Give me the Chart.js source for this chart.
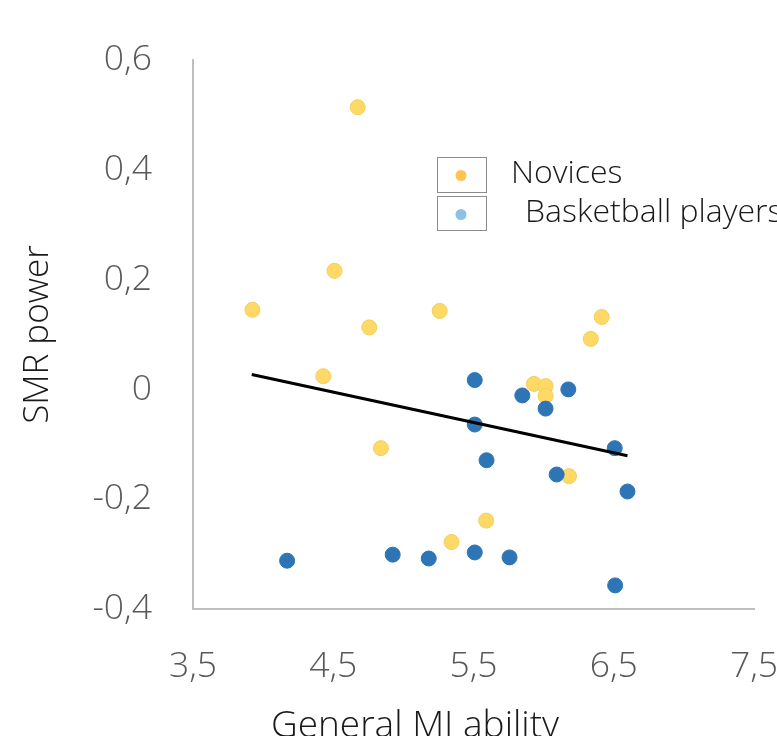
<!DOCTYPE html>
<html><head><meta charset="utf-8">
<script src="https://cdn.jsdelivr.net/npm/chart.js@4.4.1/dist/chart.umd.min.js"></script>
<style>
html,body{margin:0;padding:0;overflow:hidden;background:#fff;width:777px;height:736px}
#wrap{position:absolute;left:0;top:0;width:830px;height:780px}
canvas{display:block}
</style></head>
<body><div id="wrap"><canvas id="c" width="830" height="780"></canvas></div>
<script>
const seriesNames = ['Novices', 'Basketball players'];
const novicesX = [4.674, 4.509, 3.924, 4.757, 5.259, 4.429, 4.840, 6.414, 6.336, 6.181, 5.590, 5.343, 5.931, 6.014, 6.014];
const novicesY = [0.514, 0.216, 0.145, 0.113, 0.143, 0.024, -0.107, 0.132, 0.092, -0.158, -0.239, -0.278, 0.010, 0.006, -0.012];
const playersX = [5.509, 5.848, 6.176, 6.014, 5.509, 5.593, 6.093, 6.507, 6.598, 4.171, 4.924, 5.181, 5.509, 5.757, 6.510];
const playersY = [0.017, -0.011, 0.000, -0.035, -0.064, -0.129, -0.155, -0.107, -0.186, -0.312, -0.301, -0.308, -0.297, -0.306, -0.357];
const trendX = [3.919, 6.598];
const trendY = [0.027, -0.121];
const xTicks = [3.5, 4.5, 5.5, 6.5, 7.5];
const yTicks = [-0.4, -0.2, 0, 0.2, 0.4, 0.6];
const xTitle = 'General MI ability';
const yTitle = 'SMR power';

const FONT = "'Open Sans', 'DejaVu Sans', sans-serif";
const toPts = (xs, ys) => xs.map((x, i) => ({x: x, y: ys[i]}));
const fmt = v => { const r = Math.round(v * 10) / 10; return String(r).replace('.', ','); };

const legendPlugin = {
  id: 'boxLegend',
  afterDraw(chart) {
    const ctx = chart.ctx;
    const items = [
      {ds: chart.data.datasets[0], box: [437.5, 157.5, 49, 35], dot: [461, 175.5], tx: 511, ty: 183},
      {ds: chart.data.datasets[1], box: [437.5, 196.5, 49, 34], dot: [461, 214.5], tx: 525, ty: 222}
    ];
    ctx.save();
    items.forEach(it => {
      ctx.strokeStyle = '#8c8c8c';
      ctx.lineWidth = 1;
      ctx.strokeRect(it.box[0], it.box[1], it.box[2], it.box[3]);
      ctx.fillStyle = it.ds.legendColor;
      ctx.beginPath();
      ctx.arc(it.dot[0], it.dot[1], 5.5, 0, Math.PI * 2);
      ctx.fill();
      ctx.fillStyle = '#1a1a1a';
      ctx.font = "300 32px " + FONT;
      ctx.textBaseline = 'alphabetic';
      ctx.textAlign = 'left';
      ctx.fillText(it.ds.label, it.tx, it.ty);
    });
    ctx.restore();
  }
};

new Chart(document.getElementById('c'), {
  type: 'scatter',
  data: {
    datasets: [
      {label: seriesNames[0], data: toPts(novicesX, novicesY), backgroundColor: '#FFD966', borderColor: '#F2CE5C', borderWidth: 1, pointRadius: 7.5, legendColor: '#FFC44D', order: 2},
      {label: seriesNames[1], data: toPts(playersX, playersY), backgroundColor: '#2E75B6', borderColor: '#2E75B6', borderWidth: 1, pointRadius: 7.5, legendColor: '#8CC2E2', order: 1},
      {type: 'line', label: 'trend', data: toPts(trendX, trendY), borderColor: '#000000', borderWidth: 3, pointRadius: 0, fill: false, order: 0}
    ]
  },
  options: {
    responsive: false,
    animation: false,
    events: [],
    layout: {padding: {top: 60, left: 0, right: 0, bottom: 31.3}},
    plugins: {
      legend: {display: false},
      tooltip: {enabled: false},
      title: {display: true, position: 'bottom', text: xTitle, color: '#1a1a1a',
              font: {family: FONT, size: 37, weight: '300'}, padding: {top: 0, bottom: 0}}
    },
    scales: {
      x: {
        type: 'linear', min: 3.5, max: 7.5,
        afterBuildTicks: s => { s.ticks = xTicks.map(v => ({value: v})); },
        afterFit: s => { s.paddingLeft = 0; s.paddingRight = 76; s.height = 95.3; },
        ticks: {callback: v => fmt(v), color: '#595959', font: {family: FONT, size: 35.5, weight: '300'}, padding: 37, maxRotation: 0, autoSkip: false},
        grid: {display: false, drawTicks: false},
        border: {display: true, color: '#BFBFBF', width: 2}
      },
      y: {
        type: 'linear', min: -0.4, max: 0.6,
        afterBuildTicks: s => { s.ticks = yTicks.map(v => ({value: v})); },
        afterFit: s => { s.paddingTop = 0; s.paddingBottom = 0; s.width = 193; },
        ticks: {callback: v => fmt(v), color: '#595959', font: {family: FONT, size: 35.5, weight: '300'}, padding: 41, autoSkip: false},
        grid: {display: false, drawTicks: false},
        border: {display: true, color: '#BFBFBF', width: 2},
        title: {display: true, text: yTitle, color: '#1a1a1a', font: {family: FONT, size: 35, weight: '300'}, padding: {top: 17, bottom: 0}}
      }
    }
  },
  plugins: [legendPlugin]
});
</script>
</body></html>
